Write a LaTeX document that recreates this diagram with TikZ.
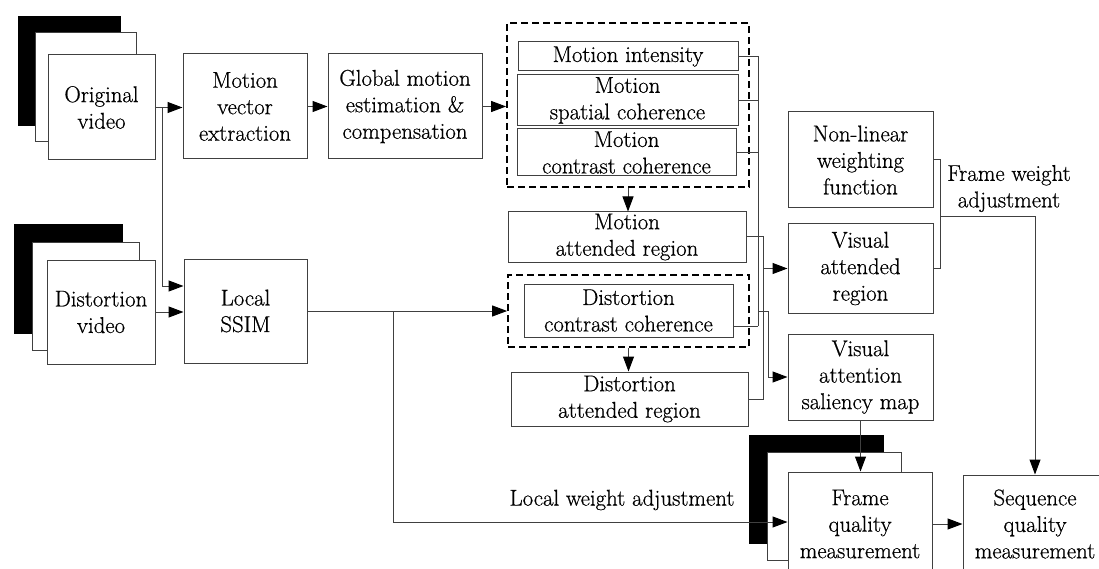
\documentclass[tikz,border=0pt]{standalone}
\usepackage{fontspec}
\setmainfont{Latin Modern Roman}[FakeBold=0.6]
\usetikzlibrary{arrows.meta,calc}
\definecolor{ln}{HTML}{404040}
\newcommand{\fs}{\rmfamily\fontsize{22.8}{26.5}\selectfont}
\tikzset{
 box/.style={draw=ln, line width=1pt, fill=white, align=center, inner sep=0pt, font=\fs},
 backbox/.style={draw=ln, line width=1pt, fill=white},
 dbox/.style={draw=black, line width=1.8pt, dash pattern=on 7pt off 4pt, inner sep=0pt},
 conn/.style={draw=ln, line width=1pt},
 arr/.style={conn, -{Triangle[length=15pt,width=11pt,color=black]}},
 lbl/.style={font=\fs, align=center, inner sep=0pt},
}
\begin{document}
\begin{tikzpicture}[x=1pt,y=-1pt]
\path[use as bounding box] (0,0) rectangle (1099,569);
\clip (0,0) rectangle (1099,569);
\fill[white] (0,0) rectangle (1099,569);

% original video stack
\fill[black] (18,16) rectangle (121,126);
\path[backbox] (35,33) rectangle (136,142);
\node[box, minimum width=107pt, minimum height=105pt] (orig) at (101.5,107.5) {Original\\video};

% distortion video stack
\fill[black] (14,224) rectangle (123,334);
\path[backbox] (32,242) rectangle (139,350);
\node[box, minimum width=108pt, minimum height=104pt] (dist) at (101,312) {Distortion\\video};

\node[box, minimum width=124pt, minimum height=105pt] (mve) at (245,106.5) {Motion\\vector\\extraction};
\node[box, minimum width=154pt, minimum height=105pt] (gme) at (405,106.5) {Global motion\\estimation \&\\compensation};
\node[box, minimum width=123pt, minimum height=104pt] (ssim) at (245.5,311) {Local\\SSIM};

% motion features
\node[dbox, minimum width=242pt, minimum height=164pt] (d1) at (628,105) {};
\node[box, minimum width=220pt, minimum height=29pt] (mi) at (628,56.5) {Motion intensity};
\node[box, minimum width=221pt, minimum height=51pt] (msc) at (627.5,100.5) {Motion\\spatial coherence};
\node[box, minimum width=219pt, minimum height=47pt] (mcc) at (626.5,152.5) {Motion\\contrast coherence};

\node[box, minimum width=238pt, minimum height=50pt] (mar) at (627,237) {Motion\\attended region};

\node[dbox, minimum width=241pt, minimum height=72pt] (d2) at (628.5,311) {};
\node[box, minimum width=209pt, minimum height=53pt] (dcc) at (628.5,310.5) {Distortion\\contrast coherence};

\node[box, minimum width=237pt, minimum height=54pt] (dar) at (629.5,399) {Distortion\\attended region};

\node[box, minimum width=145pt, minimum height=96pt] (nl) at (860.5,160) {Non-linear\\weighting\\function};
\node[box, minimum width=145pt, minimum height=89pt] (var) at (860.5,268.5) {Visual\\attended\\region};
\node[box, minimum width=145pt, minimum height=86pt] (vas) at (860.5,377) {Visual\\attention\\saliency map};

% frame quality stack
\fill[black] (749,435) rectangle (884,544);
\path[backbox] (767,452) rectangle (901,560);
\node[box, minimum width=144pt, minimum height=104pt] (fqm) at (860,524) {Frame\\quality\\measurement};

\node[box, minimum width=144pt, minimum height=98pt] (sqm) at (1035,524) {Sequence\\quality\\measurement};

\node[lbl] (fwa) at (1009,188.5) {Frame weight\\adjustment};
\node[lbl] (lwa) at (622,500) {Local weight adjustment};

% connectors
\draw[arr] (orig.east) -- (orig.east -| mve.west);
\coordinate (b1) at (162,107.5);
\coordinate (s1) at ($(ssim.west)+(0,-25)$);
\draw[arr] (b1) |- (s1);
\draw[arr] (dist.east) -- (dist.east -| ssim.west);
\draw[arr] (mve.east) -- (mve.east -| gme.west);
\draw[arr] (gme.east) -- (gme.east -| d1.west);
\draw[arr] (d1.south) -- (d1.south |- mar.north);
\draw[arr] (ssim.east) -- (ssim.east -| d2.west);
\draw[arr] (d2.south) -- (d2.south |- dar.north);

\coordinate (b2) at (393,311);
\coordinate (f1) at ($(fqm.west)+(0,-2)$);
\draw[arr] (b2) |- (f1);

% feature bus
\coordinate (fb) at (758,0);
\coordinate (dccout) at ($(dcc.east)+(0,15.5)$);
\draw[conn] (mi.east) -- (mi.east -| fb);
\draw[conn] (msc.east) -- (msc.east -| fb);
\draw[conn] (mcc.east) -- (mcc.east -| fb);
\draw[conn] (dccout) -- (dccout -| fb);
\draw[conn] (mi.east -| fb) -- (dccout -| fb);
\coordinate (fb2) at (758,311);
\coordinate (fb3) at (768,311);
\draw[arr] (fb2) -- (fb3) |- (vas.west);

% region bus
\coordinate (rb) at (763,0);
\draw[conn] (mar.east) -| (rb |- dar.east) -- (dar.east);
\draw[arr] (rb |- var.west) -- (var.west);

% weight bus
\coordinate (wb) at (940,0);
\draw[conn] (nl.east) -| (wb |- var.east) -- (var.east);
\coordinate (wj) at (940,217);
\draw[arr] (wj) -| (sqm.north);

\draw[arr] (vas.south) -- (vas.south |- fqm.north);
\draw[arr] (fqm.east) -- (fqm.east -| sqm.west);
\end{tikzpicture}
\end{document}
